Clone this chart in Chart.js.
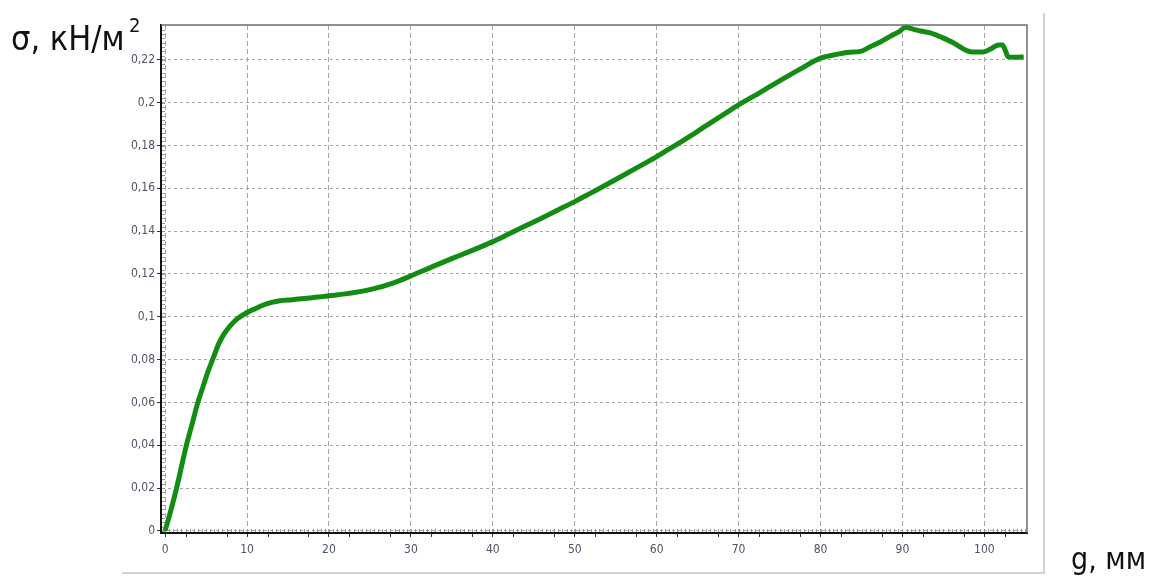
<!DOCTYPE html>
<html>
<head>
<meta charset="utf-8">
<script src="https://cdn.jsdelivr.net/npm/chart.js@4/dist/chart.umd.min.js"></script>
<style>
  html, body { margin: 0; padding: 0; background: #ffffff; }
  #wrap { position: relative; width: 1154px; height: 580px; }
</style>
</head>
<body>
<div id="wrap"><canvas id="c" width="1154" height="580"></canvas></div>
<script>
// Displacement g, mm
const displacement = [
  0, 0.8, 1.4, 2.0, 2.6, 3.3, 4.0, 4.6, 5.2, 5.9, 6.5, 7.2, 8.0, 8.8,
  10, 11, 12, 13, 14, 15.5, 17, 18.9, 20, 22, 25, 28, 30, 32.5, 35.2,
  37.5, 40, 42, 44, 46, 48, 50, 52, 54, 56, 58, 60, 62, 64, 66, 68, 70, 72.5,
  75, 77.5, 80, 81.6, 83.3, 84.9, 86, 87.3, 88.5, 89.5, 90.4, 91.2,
  92.2, 93.4, 94.8, 96.2, 97.5, 98.5, 99.9, 100.8, 101.7, 102.2, 102.6,
  102.9, 103.8, 104.8
];
// Stress σ, kN/m²
const stress = [
  0, 0.011, 0.020, 0.030, 0.040, 0.050, 0.060, 0.067, 0.074, 0.081, 0.087, 0.092, 0.096, 0.099,
  0.102, 0.1038, 0.1055, 0.1067, 0.1075, 0.108, 0.1085, 0.1093, 0.1098, 0.1107, 0.1127, 0.116, 0.1191, 0.1232, 0.1275,
  0.131, 0.1351, 0.1388, 0.1425, 0.1462, 0.150, 0.1538, 0.1579, 0.162, 0.1662, 0.1705, 0.1748, 0.1795, 0.1842, 0.1892, 0.1941, 0.199, 0.2045,
  0.2102, 0.2157, 0.2208, 0.2223, 0.2235, 0.2240, 0.226, 0.2284, 0.231, 0.233, 0.2352, 0.2345,
  0.2335, 0.2326, 0.2305, 0.228, 0.225, 0.2237, 0.2237, 0.2252, 0.227, 0.227, 0.224,
  0.2214, 0.2212, 0.2214
];
const xTicks = [0, 10, 20, 30, 40, 50, 60, 70, 80, 90, 100];
const yTicks = [0, 0.02, 0.04, 0.06, 0.08, 0.1, 0.12, 0.14, 0.16, 0.18, 0.2, 0.22];

const points = displacement.map((x, i) => ({ x: x, y: stress[i] }));
const fmt = v => String(Number(v.toFixed(3))).replace('.', ',');
const tickFont = { family: "'Liberation Sans Narrow', 'DejaVu Sans Condensed', sans-serif", size: 12 };
const tickColor = '#4d5466';

const decor = {
  id: 'decor',
  beforeDatasetsDraw(chart) {
    const ctx = chart.ctx, a = chart.chartArea;
    const xs = chart.scales.x, ys = chart.scales.y;
    ctx.save();
    // fine inner ticks along both axes
    ctx.strokeStyle = '#9a9a9a';
    ctx.lineWidth = 1;
    ctx.beginPath();
    for (let v = 0; v <= 105; v += 0.5) {
      const px = Math.round(xs.getPixelForValue(v)) + 0.5;
      ctx.moveTo(px, a.bottom - 1); ctx.lineTo(px, a.bottom - 4);
    }
    for (let v = 0; v <= 0.236; v += 0.002) {
      const py = Math.round(ys.getPixelForValue(v)) + 0.5;
      ctx.moveTo(a.left + 1, py); ctx.lineTo(a.left + 4, py);
    }
    ctx.stroke();
    // minor ticks below the x axis
    ctx.strokeStyle = '#333333';
    ctx.beginPath();
    for (let v = 2.5; v <= 105; v += 5) {
      const px = Math.round(xs.getPixelForValue(v)) + 0.5;
      ctx.moveTo(px, a.bottom); ctx.lineTo(px, a.bottom + 4);
    }
    ctx.stroke();
    ctx.restore();
  },
  afterDraw(chart) {
    const ctx = chart.ctx, a = chart.chartArea;
    ctx.save();
    // top and right edges of the plot frame
    ctx.strokeStyle = '#6e6e6e';
    ctx.lineWidth = 1.5;
    ctx.beginPath();
    ctx.moveTo(a.left, a.top); ctx.lineTo(a.right, a.top); ctx.lineTo(a.right, a.bottom);
    ctx.stroke();
    // outer panel edges
    ctx.strokeStyle = '#d2d2d2';
    ctx.lineWidth = 2;
    ctx.beginPath();
    ctx.moveTo(1044, 13); ctx.lineTo(1044, 573); ctx.lineTo(122, 573);
    ctx.stroke();
    // axis titles
    ctx.fillStyle = '#111111';
    ctx.textBaseline = 'alphabetic';
    ctx.textAlign = 'left';
    ctx.font = "34px 'DejaVu Sans Condensed', 'Liberation Sans Narrow', sans-serif";
    ctx.fillText('σ, кН/м', 11, 50);
    ctx.font = "20px 'DejaVu Sans Condensed', 'Liberation Sans Narrow', sans-serif";
    ctx.fillText('2', 129, 32);
    ctx.font = "30px 'DejaVu Sans Condensed', 'Liberation Sans Narrow', sans-serif";
    ctx.fillText('g, мм', 1071, 569);
    ctx.restore();
  }
};

new Chart(document.getElementById('c'), {
  type: 'line',
  data: {
    datasets: [{
      data: points,
      borderColor: '#138c13',
      borderWidth: 5,
      pointRadius: 0,
      cubicInterpolationMode: 'monotone',
      fill: false
    }]
  },
  options: {
    responsive: false,
    animation: false,
    plugins: { legend: { display: false }, tooltip: { enabled: false } },
    layout: { padding: { left: 0, top: 25, right: 127, bottom: 17 } },
    scales: {
      x: {
        type: 'linear',
        min: -0.5,
        max: 105.2,
        afterBuildTicks: s => { s.ticks = xTicks.map(v => ({ value: v })); },
        afterFit: s => { s.height = 30; },
        ticks: { font: tickFont, color: tickColor, padding: 6, maxRotation: 0, callback: v => fmt(v) },
        grid: { color: '#a6a6a6', lineWidth: 1, tickLength: 4, tickColor: '#333333', tickWidth: 1 },
        border: { color: '#111111', width: 2, dash: [5, 3] }
      },
      y: {
        type: 'linear',
        min: -0.001,
        max: 0.2363,
        afterBuildTicks: s => { s.ticks = yTicks.map(v => ({ value: v })); },
        afterFit: s => { s.width = 161; },
        ticks: { font: tickFont, color: tickColor, padding: 2, callback: v => fmt(v) },
        grid: { color: '#a6a6a6', lineWidth: 1, tickLength: 4, tickColor: '#333333', tickWidth: 1 },
        border: { color: '#111111', width: 2, dash: [3, 3] }
      }
    }
  },
  plugins: [decor]
});
</script>
</body>
</html>
